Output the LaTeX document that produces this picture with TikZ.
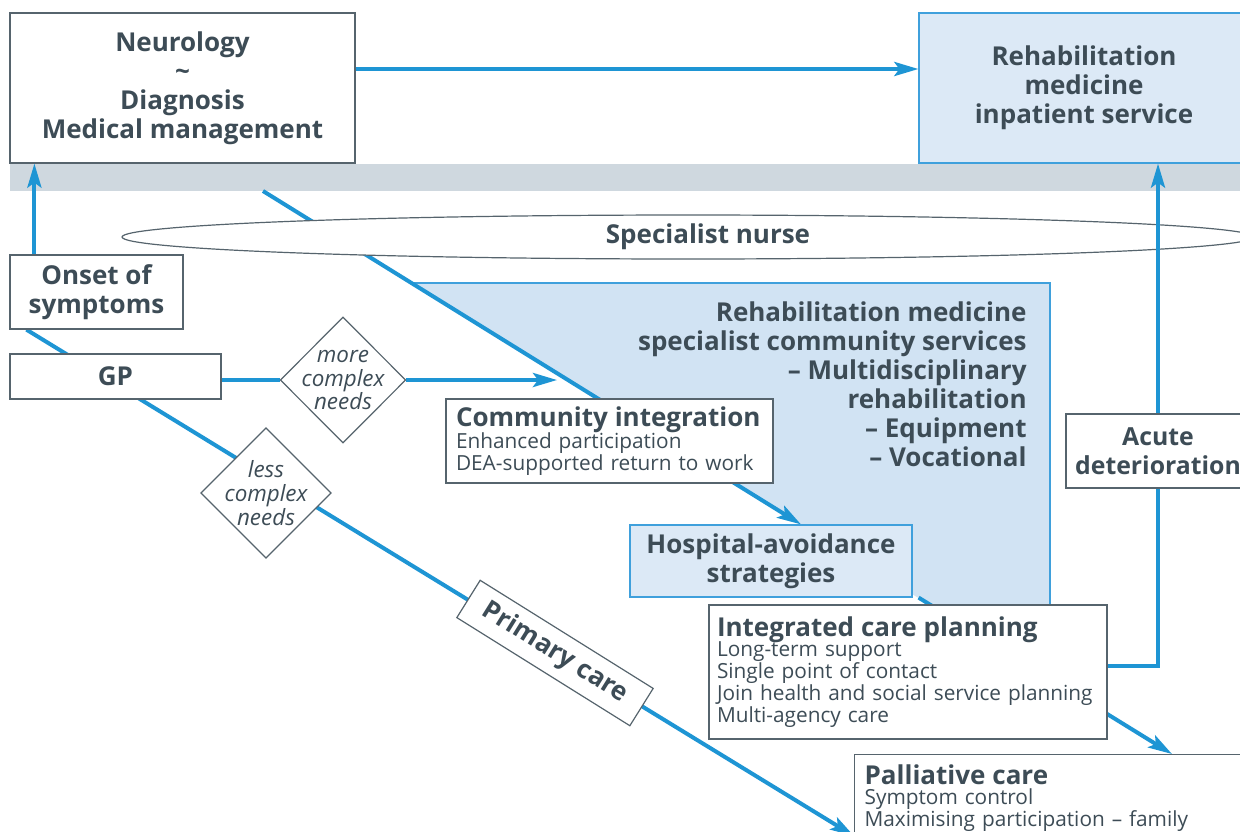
\documentclass[tikz,border=0pt]{standalone}
\usepackage{fontspec}
\setmainfont{Open Sans}
\usetikzlibrary{arrows.meta,shapes.geometric,backgrounds}

\definecolor{flowblue}{HTML}{1E95D4}
\definecolor{edgeblue}{HTML}{3FA0DC}
\definecolor{paleblue}{HTML}{DCE9F6}
\definecolor{zoneblue}{HTML}{D1E3F3}
\definecolor{bandgray}{HTML}{CFD8DF}
\definecolor{boxgray}{HTML}{56646D}
\definecolor{inkgray}{HTML}{3D4C56}

\newcommand{\headfont}{\fontsize{13}{14.5}\selectfont\bfseries}
\newcommand{\bodyfont}{\fontsize{10.4}{11}\selectfont}
\newcommand{\needfont}{\fontsize{11.2}{11.8}\selectfont\itshape}

\tikzset{
  box/.style={draw=boxgray, fill=white, line width=0.6pt, inner sep=0pt,
    text=inkgray, align=center, font=\headfont},
  palebox/.style={box, draw=edgeblue, fill=paleblue},
  listbox/.style={box, align=left, inner xsep=5pt, font=\bodyfont},
  needbox/.style={diamond, draw=boxgray, fill=white, line width=0.6pt,
    inner sep=-2.1pt, minimum width=62.5pt, minimum height=63pt,
    text=inkgray, align=center, font=\needfont},
  flow/.style={draw=flowblue, line width=2pt},
  flowhead/.style={flow, -{Stealth[length=12pt, width=7pt, inset=2.5pt]}},
}

\begin{document}
\begin{tikzpicture}[x=0.5pt, y=-0.5pt]
\useasboundingbox (0,0) rectangle (1240,831);
%% top row
\node[box, minimum width=172.5pt, minimum height=75pt] (neuro) at (182.5,88)
  {Neurology\\\textasciitilde\\Diagnosis\\Medical management};
\node[palebox, minimum width=165pt, minimum height=75pt] (inpatient) at (1084,88)
  {Rehabilitation\\medicine\\inpatient service};
%% left column
\node[box, minimum width=86.5pt, minimum height=37pt] (onset) at (96.5,292) {Onset of\\symptoms};
\node[box, minimum width=105.5pt, minimum height=22.5pt] (gp) at (115.5,376.5) {GP};
\node[needbox] (more) at (343,380) {more\\complex\\needs};
\node[needbox] (less) at (266,493) {less\\complex\\needs};
\node[box, rotate=-32, minimum width=102pt, minimum height=22pt] (primary) at (555,653) {Primary care};
%% community path
\node[listbox, text width=153.5pt, minimum height=42pt] (community) at (609.5,441)
  {{\headfont Community integration}\\[-1pt]Enhanced participation\\DEA-supported return to work};
\node[palebox, minimum width=141pt, minimum height=36pt] (hospital) at (771,561)
  {Hospital-avoidance\\strategies};
\node[listbox, inner xsep=4pt, text width=191pt, minimum height=67pt] (integrated) at (908,672)
  {{\headfont Integrated care planning}\\[-1pt]Long-term support\\Single point of contact\\
   Join health and social service planning\\Multi-agency care};
\node[listbox, anchor=north west, text width=190pt, inner ysep=5pt] (palliative) at (854,754)
  {{\headfont Palliative care}\\[-1pt]Symptom control\\Maximising participation -- family};
\node[text=inkgray, font=\headfont, align=right, anchor=east, inner sep=0pt] (zonelabel) at (1027,384.5)
  {Rehabilitation medicine\\specialist community services\\-- Multidisciplinary\\rehabilitation\\-- Equipment\\-- Vocational};
%% specialist nurse
\node[ellipse, draw=boxgray, fill=white, line width=0.6pt, inner sep=0pt,
  minimum width=566pt, minimum height=22pt] (nurse) at (688,237) {};
\node[text=inkgray, font=\headfont] (nurselabel) at ([xshift=10pt]nurse.center) {Specialist nurse};

\begin{scope}[on background layer]
\fill[bandgray] (10,164) rectangle (1240,191); %% band
\fill[zoneblue] (411.5,283) -- (1050,283) -- (1050,612) -- (941,612) -- cycle; %% zone
\draw[edgeblue, line width=0.6pt] (411.5,283) -- (1050,283) -- (1050,606);
\coordinate (bandfoot) at (263,191);
\coordinate (gpend) at (557,380);
\draw[flowhead] (bandfoot) -- ([xshift=15pt]hospital.north);
\draw[flowhead] ([xshift=3pt]hospital.south east) -- ([xshift=159pt]palliative.north west);
\draw[flowhead] ([xshift=8.5pt]onset.south west) -- ([yshift=-41pt]palliative.north west);
\draw[flow] (gp.east |- more.west) -- (more.west);
\draw[flowhead] (more.east) -- (gpend);
\end{scope}

\draw[flowhead] ([xshift=12.5pt]onset.north west) -- ([xshift=12.5pt]neuro.south west);
\draw[flowhead] ([yshift=9.5pt]neuro.east) -- ([yshift=9.5pt]inpatient.west);
\draw[flowhead] ([yshift=3pt]integrated.east) -| ([xshift=37pt]inpatient.south);
\node[box, minimum width=92pt, minimum height=37pt, font=\fontsize{12.4}{14.5}\selectfont\bfseries] (acute) at (1158,451) {Acute\\deterioration};
\end{tikzpicture}
\end{document}
